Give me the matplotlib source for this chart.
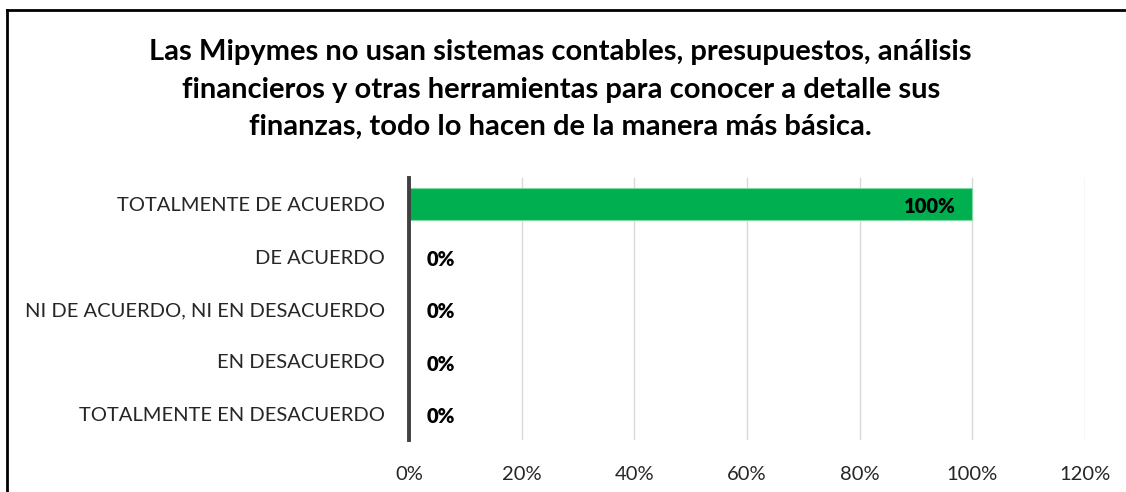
import matplotlib
matplotlib.use("Agg")
import matplotlib.pyplot as plt
from matplotlib.lines import Line2D
from matplotlib.ticker import PercentFormatter

categories = [
    "TOTALMENTE DE ACUERDO",
    "DE ACUERDO",
    "NI DE ACUERDO, NI EN DESACUERDO",
    "EN DESACUERDO",
    "TOTALMENTE EN DESACUERDO",
]
values = [100, 0, 0, 0, 0]
x_ticks = [0, 20, 40, 60, 80, 100, 120]
title = ("Las Mipymes no usan sistemas contables, presupuestos, análisis\n"
         "financieros y otras herramientas para conocer a detalle sus\n"
         "finanzas, todo lo hacen de la manera más básica.")

plt.rcParams["font.family"] = ["Lato", "DejaVu Sans"]

fig = plt.figure(figsize=(11.26, 4.92), dpi=100)
ax = fig.add_axes([0.3632, 0.1057, 0.6004, 0.5325])

y = list(range(len(categories)))
ax.barh(y, values, height=0.6, color="#00b050", edgecolor="#7fd9a3", linewidth=0.8, zorder=3)
ax.set_ylim(len(categories) - 0.5, -0.5)
ax.set_xlim(0, 120)
ax.set_yticks(y)
ax.set_yticklabels(categories, fontsize=14.5, color="#262626")
ax.set_xticks(x_ticks)
ax.xaxis.set_major_formatter(PercentFormatter(decimals=0))
ax.tick_params(axis="x", labelsize=14.5, colors="#262626", length=0, pad=19)
ax.tick_params(axis="y", length=0, pad=17)
ax.grid(axis="x", color="#d9d9d9", linewidth=1.0, zorder=0)
for s in ["top", "right", "bottom"]:
    ax.spines[s].set_visible(False)
ax.spines["left"].set_color("#404040")
ax.spines["left"].set_linewidth(2.8)
ax.spines["left"].set_zorder(4)

for yi, v in zip(y, values):
    if v >= 10:
        ax.text(v - 3, yi + 0.05, f"{v}%", ha="right", va="center", fontsize=14.5,
                fontweight="heavy", color="black", zorder=5)
    else:
        ax.text(v + 3.2, yi + 0.05, f"{v}%", ha="left", va="center", fontsize=14.5,
                fontweight="heavy", color="black", zorder=5)

fig.text(0.498, 0.818, title, ha="center", va="center", fontsize=21,
         fontweight="bold", color="black", linespacing=1.55)

# chart frame
fig.add_artist(Line2D([7 / 1126, 7 / 1126], [0, 1 - 10 / 492], transform=fig.transFigure,
                      color="black", linewidth=2))
fig.add_artist(Line2D([7 / 1126, 1], [1 - 10 / 492, 1 - 10 / 492], transform=fig.transFigure,
                      color="black", linewidth=2))

fig.savefig("out.png", dpi=100)
